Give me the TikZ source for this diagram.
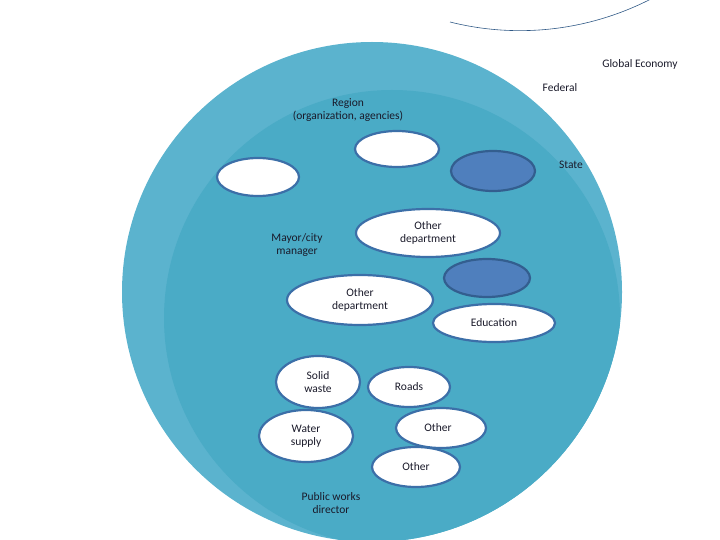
\documentclass[tikz,border=0pt]{standalone}
\usepackage{fontspec}
\setmainfont{Carlito}
\definecolor{outerc}{HTML}{5BB3CE}
\definecolor{innerc}{HTML}{4AABC6}
\definecolor{edgec}{HTML}{3C6FA8}
\definecolor{darkf}{HTML}{4F7FBD}
\definecolor{txt}{HTML}{1A1A2A}
\begin{document}
\begin{tikzpicture}[x=1pt,y=-1pt,
  ov/.style={draw=edgec,line width=2.2pt,fill=white},
  dv/.style={draw=edgec!85!black,line width=2.2pt,fill=darkf},
  lab/.style={font=\fontsize{11.5}{13.5}\selectfont,text=txt,align=center,inner sep=0pt}]
\useasboundingbox (0,0) rectangle (720,540);
\fill[outerc] (372,292) circle (250);
\begin{scope}
\clip (372,292) circle (250);
\fill[innerc] (392,318) circle (228);
\end{scope}
\draw[edgec!80!black,line width=0.6pt] (450,22) arc[start angle=104.1,end angle=12.3,radius=287];
% ellipses
\draw[ov] (258,177) ellipse (41 and 19);
\draw[ov] (397,149) ellipse (42 and 18);
\draw[dv] (493,171) ellipse (42 and 20);
\draw[ov] (428,233) ellipse (72 and 24);
\draw[dv] (487,278) ellipse (43 and 19);
\draw[ov] (360,300) ellipse (73 and 25);
\draw[ov] (494,323) ellipse (61 and 19);
\draw[ov] (318,382) ellipse (42 and 26);
\draw[ov] (409,387) ellipse (41 and 20);
\draw[ov] (306,436) ellipse (47 and 26);
\draw[ov] (441,428) ellipse (45 and 20);
\draw[ov] (416,467) ellipse (44 and 20);
% texts
\node[lab] (ge) at (640,64) {Global Economy};
\node[lab] (fed) at (560,88) {Federal};
\node[lab] (reg) at (348,110) {Region\\(organization, agencies)};
\node[lab] (st) at (571,165) {State};
\node[lab] (od1) at (428,233) {Other\\department};
\node[lab] (may) at (297,245) {Mayor/city\\manager};
\node[lab] (od2) at (360,300) {Other\\department};
\node[lab] (edu) at (494,323) {Education};
\node[lab] (sw) at (318,382) {Solid\\waste};
\node[lab] (rd) at (409,387) {Roads};
\node[lab] (ws) at (306,436) {Water\\supply};
\node[lab] (o1) at (438,428) {Other};
\node[lab] (o2) at (416,467) {Other};
\node[lab] (pw) at (331,503) {Public works\\director};
\end{tikzpicture}
\end{document}
